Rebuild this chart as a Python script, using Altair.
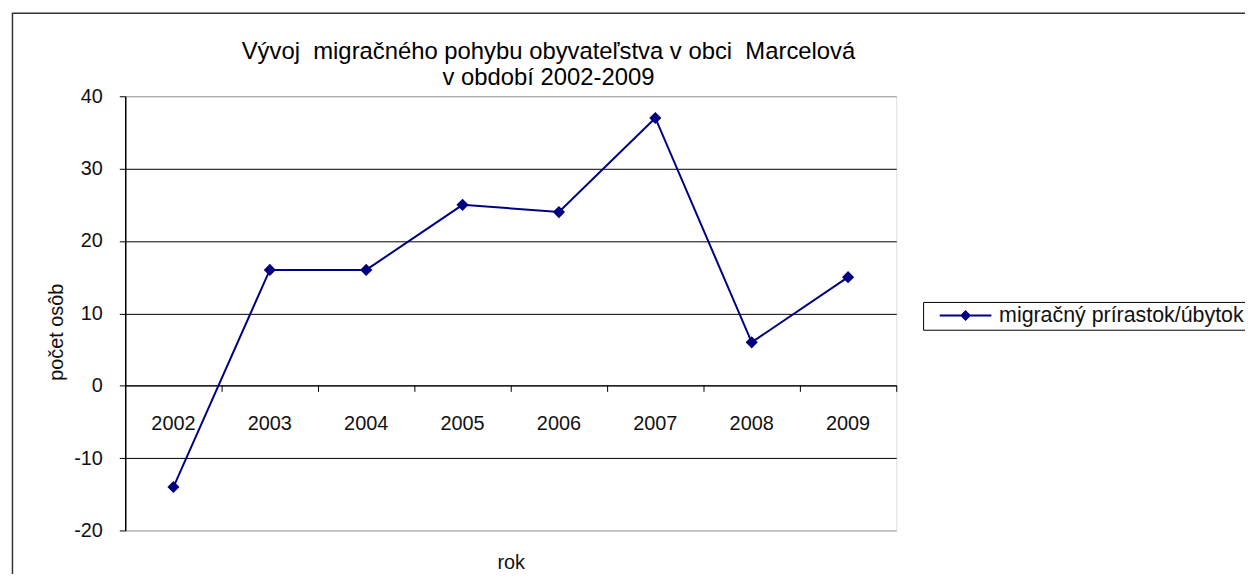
import altair as alt
import pandas as pd

# ---- data ----
years = ["2002", "2003", "2004", "2005", "2006", "2007", "2008", "2009"]
values = [-14, 16, 16, 25, 24, 37, 6, 15]
series_name = "migračný prírastok/úbytok"
y_ticks = [-20, -10, 0, 10, 20, 30, 40]
title_lines = ["Vývoj \u00a0migračného pohybu obyvateľstva v obci \u00a0Marcelová",
               "v období 2002-2009"]
x_title = "rok"
y_title = "počet osôb"

df = pd.DataFrame({"rok": years, "hodnota": values,
                   "seria": [series_name] * len(years)})

FONT = "Liberation Sans, Arial, sans-serif"
NAVY = "#000080"
W, H = 776, 437
PAD_L, PAD_T = 118, 87
TOTAL_W, TOTAL_H = 1245, 566

x_scale = alt.Scale(type="band", paddingInner=0, paddingOuter=0)
y_scale = alt.Scale(domain=[-20, 40], nice=False, zero=False)

x_axis = alt.Axis(
    orient="bottom", offset=-146, bandPosition=1,
    labelAngle=0, labelFontSize=20, labelFont=FONT, labelColor="#111111",
    labelPadding=22, tickSize=6, tickColor="black", domainColor="black",
    domainWidth=1, grid=False, titleFontSize=20, titleFont=FONT,
    titleFontWeight="normal", titleColor="#111111", titleY=184,
    titleBaseline="alphabetic",
)
y_axis = alt.Axis(
    values=y_ticks, labelExpr="'' + datum.value",
    labelFontSize=20, labelFont=FONT, labelColor="#111111",
    labelPadding=17, tickSize=6, tickColor="black", domainColor="black",
    domainWidth=1.5,
    gridColor=alt.condition("datum.value == 40 || datum.value == -20",
                            alt.value("#999999"), alt.value("black")),
    gridWidth=1, gridOpacity=1,
    titleFontSize=20, titleFont=FONT, titleFontWeight="normal",
    titleColor="#111111", titleX=-63, titleY=237, titleAngle=-90,
    titleBaseline="alphabetic", titleAlign="center",
)

base = alt.Chart(df)

x_enc = alt.X("rok:O", bandPosition=0.5, scale=x_scale, axis=x_axis, title=x_title)
y_enc = alt.Y("hodnota:Q", scale=y_scale, axis=y_axis, title=y_title)

line = base.mark_line(color=NAVY, strokeWidth=2).encode(x=x_enc, y=y_enc)

legend_path = ("M-3.25,-0.125H3.25V0.125H-3.25Z "
               "M0,-0.69L0.69,0L0,0.69L-0.69,0Z")

points = base.mark_point(shape="diamond", filled=True, size=150, opacity=1).encode(
    x=x_enc, y=y_enc,
    color=alt.Color(
        "seria:N",
        scale=alt.Scale(domain=[series_name], range=[NAVY]),
        legend=alt.Legend(
            title=None, orient="none", legendX=803, legendY=207,
            symbolType=legend_path, symbolSize=256, symbolOffset=29,
            symbolOpacity=1, labelOffset=23, labelFontSize=21.5,
            labelFont=FONT, labelColor="#111111", labelLimit=400,
            strokeColor="black", padding=3,
        ),
    ),
)

border = alt.Chart(alt.Data(values=[{}])).mark_rect(
    fill="white", fillOpacity=0, stroke="#333333", strokeWidth=1.5
).encode(
    x=alt.value(-113.5), x2=alt.value(1300),
    y=alt.value(-83.5), y2=alt.value(700),
)

title = alt.Chart(alt.Data(values=[{}])).mark_text(
    text=title_lines, font=FONT, fontSize=24, color="black",
    align="center", baseline="alphabetic", lineHeight=26.5,
).encode(x=alt.value(426), y=alt.value(-38))

chart = alt.layer(border, line, points, title).properties(
    width=W, height=H,
    padding={"left": PAD_L, "top": PAD_T,
             "right": TOTAL_W - PAD_L - W, "bottom": TOTAL_H - PAD_T - H},
    autosize=alt.AutoSizeParams(type="none"),
).configure_view(
    stroke="#999999", strokeWidth=2
).configure(background="white")

chart.save("out.html", embed_options={"renderer": "svg", "actions": False})
